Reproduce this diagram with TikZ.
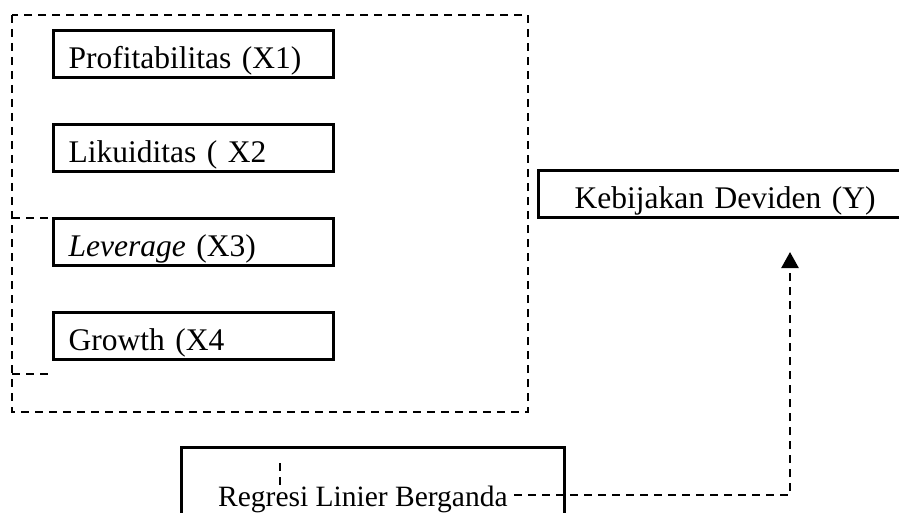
\documentclass[tikz,border=0pt]{standalone}
\usepackage{fontspec}
\setmainfont{Liberation Serif}
\usetikzlibrary{arrows.meta}
\begin{document}
\begin{tikzpicture}[x=1pt,y=-1pt,
  varbox/.style={draw, line width=3.2pt, anchor=north west, minimum height=47pt,
    text height=28pt, text depth=0pt, inner xsep=15pt, inner ysep=0pt,
    text width=250pt, align=left, font=\fontsize{31.5}{36}\selectfont},
  dashline/.style={line width=2.4pt, dash pattern=on 8pt off 6pt}]
\useasboundingbox (0,0) rectangle (899,513);
\clip (0,0) rectangle (899,513);
% outer dashed group
\draw[dashline] (12,15) rectangle (528,412);
\draw[dashline] (12,218) -- (52,218);
\draw[dashline] (12,374) -- (50,374);
% variable boxes
\node[varbox] (x1) at (52,29) {Profitabilitas (X1)};
\node[varbox] (x2) at (52,123) {Likuiditas ( X2};
\node[varbox] (x3) at (52,217) {\textit{Leverage} (X3)};
\node[varbox] (x4) at (52,311) {Growth (X4};
% dependent box (runs off the right edge)
\node[varbox, text width=320pt, inner xsep=36pt] (y) at (537,169) {Kebijakan Deviden (Y)};
% regression box (runs off the bottom edge)
\node[draw, line width=3.2pt, anchor=north west, minimum width=383pt, minimum height=120pt, inner sep=0pt] (reg) at (180,446) {};
% connector
\coordinate (s) at (280,463);
\coordinate (c1) at (280,495);
\coordinate (c2) at (790,495);
\coordinate (t) at (790,252);
\draw[dashline, -{Triangle[length=16pt,width=17pt]}] (s) -- (c1) -- (c2) -- (t);
\node[anchor=base west, fill=white, inner sep=0pt, font=\fontsize{29.5}{34}\selectfont] (regtxt) at (218,506) {Regresi Linier Berganda};
\end{tikzpicture}
\end{document}
